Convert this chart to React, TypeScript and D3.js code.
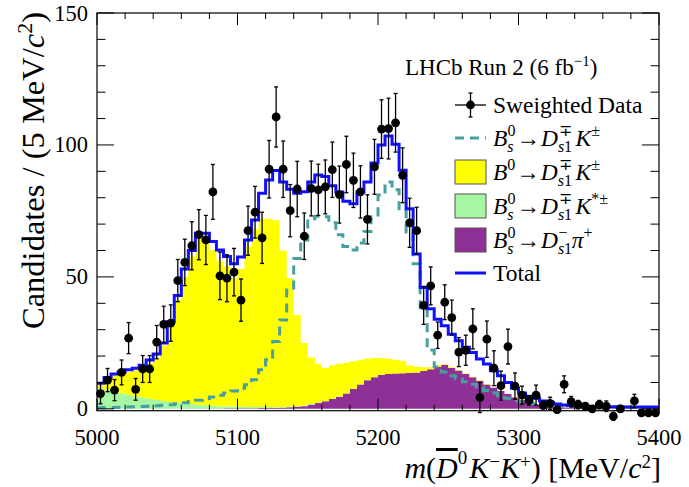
import * as d3 from 'd3'

// 5 MeV bins from 5000 to 5400 (low edges)
const binLow = d3.range(5000, 5400, 5)

// sWeighted data: bin contents and errors (null = off scale)
const dataY = [5.8, 10.9, 7.1, 13.8, 26.8, 7.4, 15.1, 15.1, 25.3, 32,
  32.5, 48.6, 55.5, 61.8, 66, 64, 82.2, 50.4, 49.5, 51.8,
  41.2, 67.5, 74.5, 64.8, 90.8, 110.6, 90.8, 75.1, 83.3, 65.4,
  83.5, 83, 84.1, 90.6, 81.2, 92.6, 86.6, 82.2, 71.8, 91.7,
  106, 106.2, 108.4, 88.5, 70.5, 67.5, 39.2, 46.6, 27.9, 40.4,
  34.6, 21.5, 22.2, 30.3, 4.3, 26.4, 15.4, 8.8, 23.6, 8.6,
  5.2, 3.2, 5.2, 1.4, 2.1, -0.3, 9.3, 2.7, 1.6, 1.0,
  0, 1.6, 1.0, -2.8, 0, null, 3, -1.5, -1.5, -1.5]
const dataErr = [3.9, 4.4, 4, 4.7, 5.9, 4.1, 5.1, 5.1, 6.3, 6.9,
  6.9, 8, 8.8, 9.1, 9.5, 9.3, 10.4, 9, 8.9, 9,
  8, 9.3, 9.8, 9.7, 10.9, 11.4, 10.7, 9.9, 10.5, 8.8,
  10.4, 9.7, 10.2, 10.5, 10.8, 10.7, 10.3, 9.9, 9.3, 10.4,
  11.1, 11.5, 11.1, 10.4, 9.3, 8.9, 7.2, 7.2, 5, 6.6,
  6.6, 5.5, 5.7, 7.6, 5.7, 6.9, 6.6, 5.5, 6.6, 5,
  3.4, 1.8, 3.8, 1.5, 2.3, 1.3, 3.2, 2, 1.6, 1.3,
  1, 1.6, 2, 1.5, 1.3, 0, 2.5, 1, 1, 1]

// fit total
const total = [9.7, 11.9, 13.2, 14, 14.8, 15.4, 16.5, 18.5, 20.8, 25,
  33, 43, 53, 60, 66.5, 66.5, 63.4, 60.2, 57.7, 55,
  57.5, 64, 71.6, 81.7, 86.7, 90.3, 86, 83.2, 81.7, 82.3,
  86, 88.6, 88, 84.5, 82.2, 78.7, 77.7, 82.2, 86, 93.2,
  100, 103.4, 100.3, 90.4, 75.8, 58.7, 46, 37.9, 34, 31.5,
  28.3, 25.8, 23.3, 21.4, 18.9, 17, 14.4, 12.5, 10, 7.8,
  6, 4.8, 4, 3, 2.4, 1.8, 1.5, 1.3, 1.1, 1.0,
  0.9, 0.9, 0.8, 0.8, 0.8, 0.7, 0.7, 0.7, 0.7, 0.7]

// Bs0 -> Ds1 K (dashed)
const bsK = [0.4, 0.5, 0.5, 0.6, 0.7, 0.8, 0.9, 1.0, 1.2, 1.4,
  1.6, 1.9, 2.3, 2.8, 3.3, 3.9, 4.5, 5.2, 6.0, 6.8,
  7.8, 9.1, 11, 14.8, 18.6, 25.5, 33.7, 45, 57, 64,
  72, 73, 72.8, 70.5, 66, 61.5, 60.2, 62.8, 67.2, 73.5,
  81, 86, 83, 75, 67, 55, 37.5, 22.3, 16, 14,
  12.5, 11.3, 10.3, 9.3, 8.2, 7, 6, 5, 4, 3.2,
  2.6, 2.2, 1.9, 1.6, 1.4, 1.2, 1.1, 1.0, 0.9, 0.8,
  0.7, 0.7, 0.6, 0.6, 0.5, 0.5, 0.5, 0.4, 0.4, 0.4]

// B0 -> Ds1 K (yellow)
const b0K = [1.2, 3.8, 6.3, 7.6, 8.7, 9.7, 11.2, 13.5, 15.6, 21,
  29.2, 39, 47.9, 55.9, 62.8, 63, 59, 54.8, 52.9, 48.6,
  52.2, 60.8, 67.3, 71.3, 71.3, 70.9, 59.3, 48.6, 34.6, 23.8,
  17.7, 14.8, 12.5, 12.7, 12.4, 11.6, 10.4, 9.2, 8.1, 7.2,
  6.4, 5.8, 5.2, 4.7, 2.9, 2.2, 1.5, 0.8, 0.5, 0.3,
  0.3, 0.3, 0.2, 0.2, 0.2, 0.2, 0.1, 0.1, 0.1, 0.1,
  0, 0, 0, 0, 0, 0, 0, 0, 0, 0,
  0, 0, 0, 0, 0, 0, 0, 0, 0, 0]

// Bs0 -> Ds1 K*± (green)
const bsKstar = [7.8, 7.2, 6.5, 5.9, 5.3, 4.8, 4.3, 3.8, 3.4, 3.0,
  2.6, 2.3, 2.0, 1.7, 1.5, 1.3, 1.1, 0.9, 0.8, 0.7,
  0.6, 0.5, 0.5, 0.4, 0.4, 0.3, 0.3, 0.3, 0.2, 0.2,
  0.2, 0.1, 0.1, 0.1, 0.1, 0.1, 0.1, 0.1, 0.1, 0.1,
  0.1, 0, 0, 0, 0, 0, 0, 0, 0, 0,
  0, 0, 0, 0, 0, 0, 0, 0, 0, 0,
  0, 0, 0, 0, 0, 0, 0, 0, 0, 0,
  0, 0, 0, 0, 0, 0, 0, 0, 0, 0]

// Bs0 -> Ds1- pi+ (purple)
const bsPi = [0, 0, 0, 0, 0, 0, 0, 0, 0, 0,
  0, 0, 0.1, 0.1, 0.1, 0.1, 0.1, 0.1, 0.2, 0.2,
  0.2, 0.2, 0.2, 0.3, 0.3, 0.3, 0.4, 0.6, 0.8, 1.0,
  1.6, 2.2, 2.9, 3.7, 4.6, 5.8, 7.5, 9.2, 10.8, 12,
  12.8, 13.2, 13.4, 13.5, 13.6, 13.8, 14.3, 15, 16, 16.7,
  15.5, 14.5, 13.2, 12, 10.6, 9.2, 8, 6.8, 5.6, 4.4,
  3.3, 2.4, 1.6, 1.1, 0.8, 0.6, 0.5, 0.4, 0.3, 0.3,
  0.2, 0.2, 0.2, 0.2, 0.2, 0.2, 0.2, 0.2, 0.2, 0.2]

const xTicks = d3.range(5000, 5401, 20)
const yTicks = d3.range(0, 151, 10)

const font = 'Liberation Serif, Times New Roman, serif'
const fillColors = { pi: '#8e3096', kstar: '#a6f7a2', k: '#ffff00' }
const dashColor = '#479f9f'
const totalColor = '#1010ff'

const x = d3.scaleLinear().domain([5000, 5400]).range([97, 659])
const y = d3.scaleLinear().domain([-0.7, 150]).range([410.7, 13])

const stepPoints = (vals: number[]) =>
  vals.flatMap((v, i) => [[binLow[i], v], [binLow[i] + 5, v]] as [number, number][])

const stepLine = d3.line<[number, number]>().x(d => x(d[0])).y(d => y(d[1]))

const fs = 23.5, ss = 16

const DecayText = ({ x0, y0, bs, dSup, bach, bachSup }:
  { x0: number, y0: number, bs: boolean, dSup: string, bach: string, bachSup: string }) => (
  <text x={x0} y={y0} fontSize={fs} fontFamily={font}>
    <tspan fontStyle='italic'>B</tspan>
    {bs
      ? <><tspan fontSize={ss} fontStyle='italic' dy={6}>s</tspan><tspan fontSize={ss} dx={-6.2} dy={-16}>0</tspan></>
      : <><tspan fontSize={ss} dy={-10}>0</tspan><tspan fontSize={ss}></tspan></>}
    <tspan dy={10} dx={1}>→</tspan>
    <tspan fontStyle='italic' dx={1}>D</tspan>
    <tspan fontSize={ss} fontStyle='italic' dy={6}>s</tspan>
    <tspan fontSize={ss}>1</tspan>
    <tspan fontSize={ss} dx={-13.5} dy={-16}>{dSup}</tspan>
    <tspan dy={10} dx={4} fontStyle='italic'>{bach}</tspan>
    <tspan fontSize={ss} dy={-10}>{bachSup}</tspan>
  </text>
)

export default function App() {
  const table = binLow.map((m, i) => ({ m, pi: bsPi[i], kstar: bsKstar[i], k: b0K[i] }))
  const stacked = d3.stack<any>().keys(['pi', 'kstar', 'k'])(table)
  const area = d3.area<[number, number, number]>()
    .x(d => x(d[0])).y0(d => y(d[1])).y1(d => y(d[2]))

  const legendX = 455, textX = 493
  const rows = [105, 138, 172, 206, 240, 273]

  return (
    <svg width={689} height={487} style={{ position: 'absolute', left: 0, top: 0, background: '#fff' }}>
      <defs>
        <clipPath id='frame'><rect x={97} y={13} width={562} height={397.7} /></clipPath>
      </defs>

      <g clipPath='url(#frame)'>
        {stacked.map(s => {
          const pts = s.flatMap((seg, i) => [
            [binLow[i], seg[0], seg[1]], [binLow[i] + 5, seg[0], seg[1]]
          ] as [number, number, number][])
          return <path key={s.key} d={area(pts) ?? ''} fill={(fillColors as any)[s.key]} />
        })}
        <path d={stepLine(stepPoints(bsK)) ?? ''} fill='none' stroke={dashColor}
          strokeWidth={3} strokeDasharray='9,6' />
        <path d={stepLine(stepPoints(total)) ?? ''} fill='none' stroke={totalColor} strokeWidth={3} />
      </g>

      <g className='data'>
        {dataY.map((v, i) => {
          if (v === null) return null
          const cx = x(binLow[i] + 2.5)
          const e = dataErr[i]
          return (
            <g key={i}>
              <line x1={cx} x2={cx} y1={y(v - e)} y2={y(v + e)} stroke='#000' strokeWidth={1.3} />
              <line x1={cx - 2} x2={cx + 2} y1={y(v - e)} y2={y(v - e)} stroke='#000' strokeWidth={1.3} />
              <line x1={cx - 2} x2={cx + 2} y1={y(v + e)} y2={y(v + e)} stroke='#000' strokeWidth={1.3} />
              <circle cx={cx} cy={y(v)} r={4.4} fill='#000' />
            </g>
          )
        })}
      </g>

      {/* frame and ticks */}
      <rect x={97} y={13} width={562} height={397.7} fill='none' stroke='#000' strokeWidth={1.2} />
      <g className='axis bottom'>
        {xTicks.map(t => {
          const len = t % 100 === 0 ? 12 : 6
          return (
            <g key={t}>
              <line x1={x(t)} x2={x(t)} y1={410.7} y2={410.7 - len} stroke='#000' />
              <line x1={x(t)} x2={x(t)} y1={13} y2={13 + len} stroke='#000' />
              {t % 100 === 0 && (
                <text x={x(t)} y={445} textAnchor='middle' fontSize={22.5} fontFamily={font}>{t}</text>
              )}
            </g>
          )
        })}
      </g>
      <g className='axis left'>
        {yTicks.map(t => {
          const len = t % 50 === 0 ? 17 : 8.5
          return (
            <g key={t}>
              <line x1={97} x2={97 + len} y1={y(t)} y2={y(t)} stroke='#000' />
              <line x1={659} x2={659 - len} y1={y(t)} y2={y(t)} stroke='#000' />
              {t % 50 === 0 && (
                <text x={88} y={y(t) + 7.5} textAnchor='end' fontSize={22.5} fontFamily={font}>{t}</text>
              )}
            </g>
          )
        })}
      </g>

      {/* axis titles */}
      <text transform='translate(44, 12) rotate(-90)' textAnchor='end' fontSize={32.5} fontFamily={font}>
        Candidates / (5 MeV/<tspan fontStyle='italic'>c</tspan><tspan fontSize={22} dy={-12}>2</tspan><tspan dy={12}>)</tspan>
      </text>
      <text x={661} y={478} textAnchor='end' fontSize={30} fontFamily={font}>
        <tspan fontStyle='italic'>m</tspan>(<tspan fontStyle='italic' style={{ textDecoration: 'overline' }}>D</tspan>
        <tspan fontSize={19} dy={-14}>0</tspan>
        <tspan dy={14} dx={2} fontStyle='italic'>K</tspan>
        <tspan fontSize={19} dy={-10}>−</tspan>
        <tspan dy={10} fontStyle='italic'>K</tspan>
        <tspan fontSize={19} dy={-10}>+</tspan>
        <tspan dy={10}>) [MeV/</tspan>
        <tspan fontStyle='italic'>c</tspan>
        <tspan fontSize={19} dy={-10}>2</tspan>
        <tspan dy={10}>]</tspan>
      </text>

      <text x={405} y={75} fontSize={23} fontFamily={font}>
        LHCb Run 2 (6 fb<tspan fontSize={15} dy={-9}>−1</tspan><tspan dy={9}>)</tspan>
      </text>

      {/* legend */}
      <g className='legend'>
        <line x1={legendX} x2={legendX + 31} y1={rows[0]} y2={rows[0]} stroke='#000' strokeWidth={1.3} />
        <line x1={legendX + 15.5} x2={legendX + 15.5} y1={rows[0] - 12} y2={rows[0] + 12} stroke='#000' strokeWidth={1.3} />
        <line x1={legendX + 13.5} x2={legendX + 17.5} y1={rows[0] - 12} y2={rows[0] - 12} stroke='#000' strokeWidth={1.3} />
        <line x1={legendX + 13.5} x2={legendX + 17.5} y1={rows[0] + 12} y2={rows[0] + 12} stroke='#000' strokeWidth={1.3} />
        <circle cx={legendX + 15.5} cy={rows[0]} r={4.4} fill='#000' />
        <text x={textX} y={rows[0] + 8} fontSize={fs} fontFamily={font}>Sweighted Data</text>

        <line x1={legendX} x2={legendX + 31} y1={rows[1]} y2={rows[1]} stroke={dashColor} strokeWidth={3} strokeDasharray='9,6' />
        <DecayText x0={textX} y0={rows[1] + 8} bs={true} dSup='∓' bach='K' bachSup='±' />

        <rect x={legendX} y={rows[2] - 12} width={31} height={24} fill={fillColors.k} stroke='#555' />
        <DecayText x0={textX} y0={rows[2] + 8} bs={false} dSup='∓' bach='K' bachSup='±' />

        <rect x={legendX} y={rows[3] - 12} width={31} height={24} fill={fillColors.kstar} stroke='#555' />
        <DecayText x0={textX} y0={rows[3] + 8} bs={true} dSup='∓' bach='K' bachSup='*±' />

        <rect x={legendX} y={rows[4] - 12} width={31} height={24} fill={fillColors.pi} stroke='#555' />
        <DecayText x0={textX} y0={rows[4] + 8} bs={true} dSup='−' bach='π' bachSup='+' />

        <line x1={legendX} x2={legendX + 31} y1={rows[5]} y2={rows[5]} stroke={totalColor} strokeWidth={3} />
        <text x={textX} y={rows[5] + 8} fontSize={fs} fontFamily={font}>Total</text>
      </g>
    </svg>
  )
}
